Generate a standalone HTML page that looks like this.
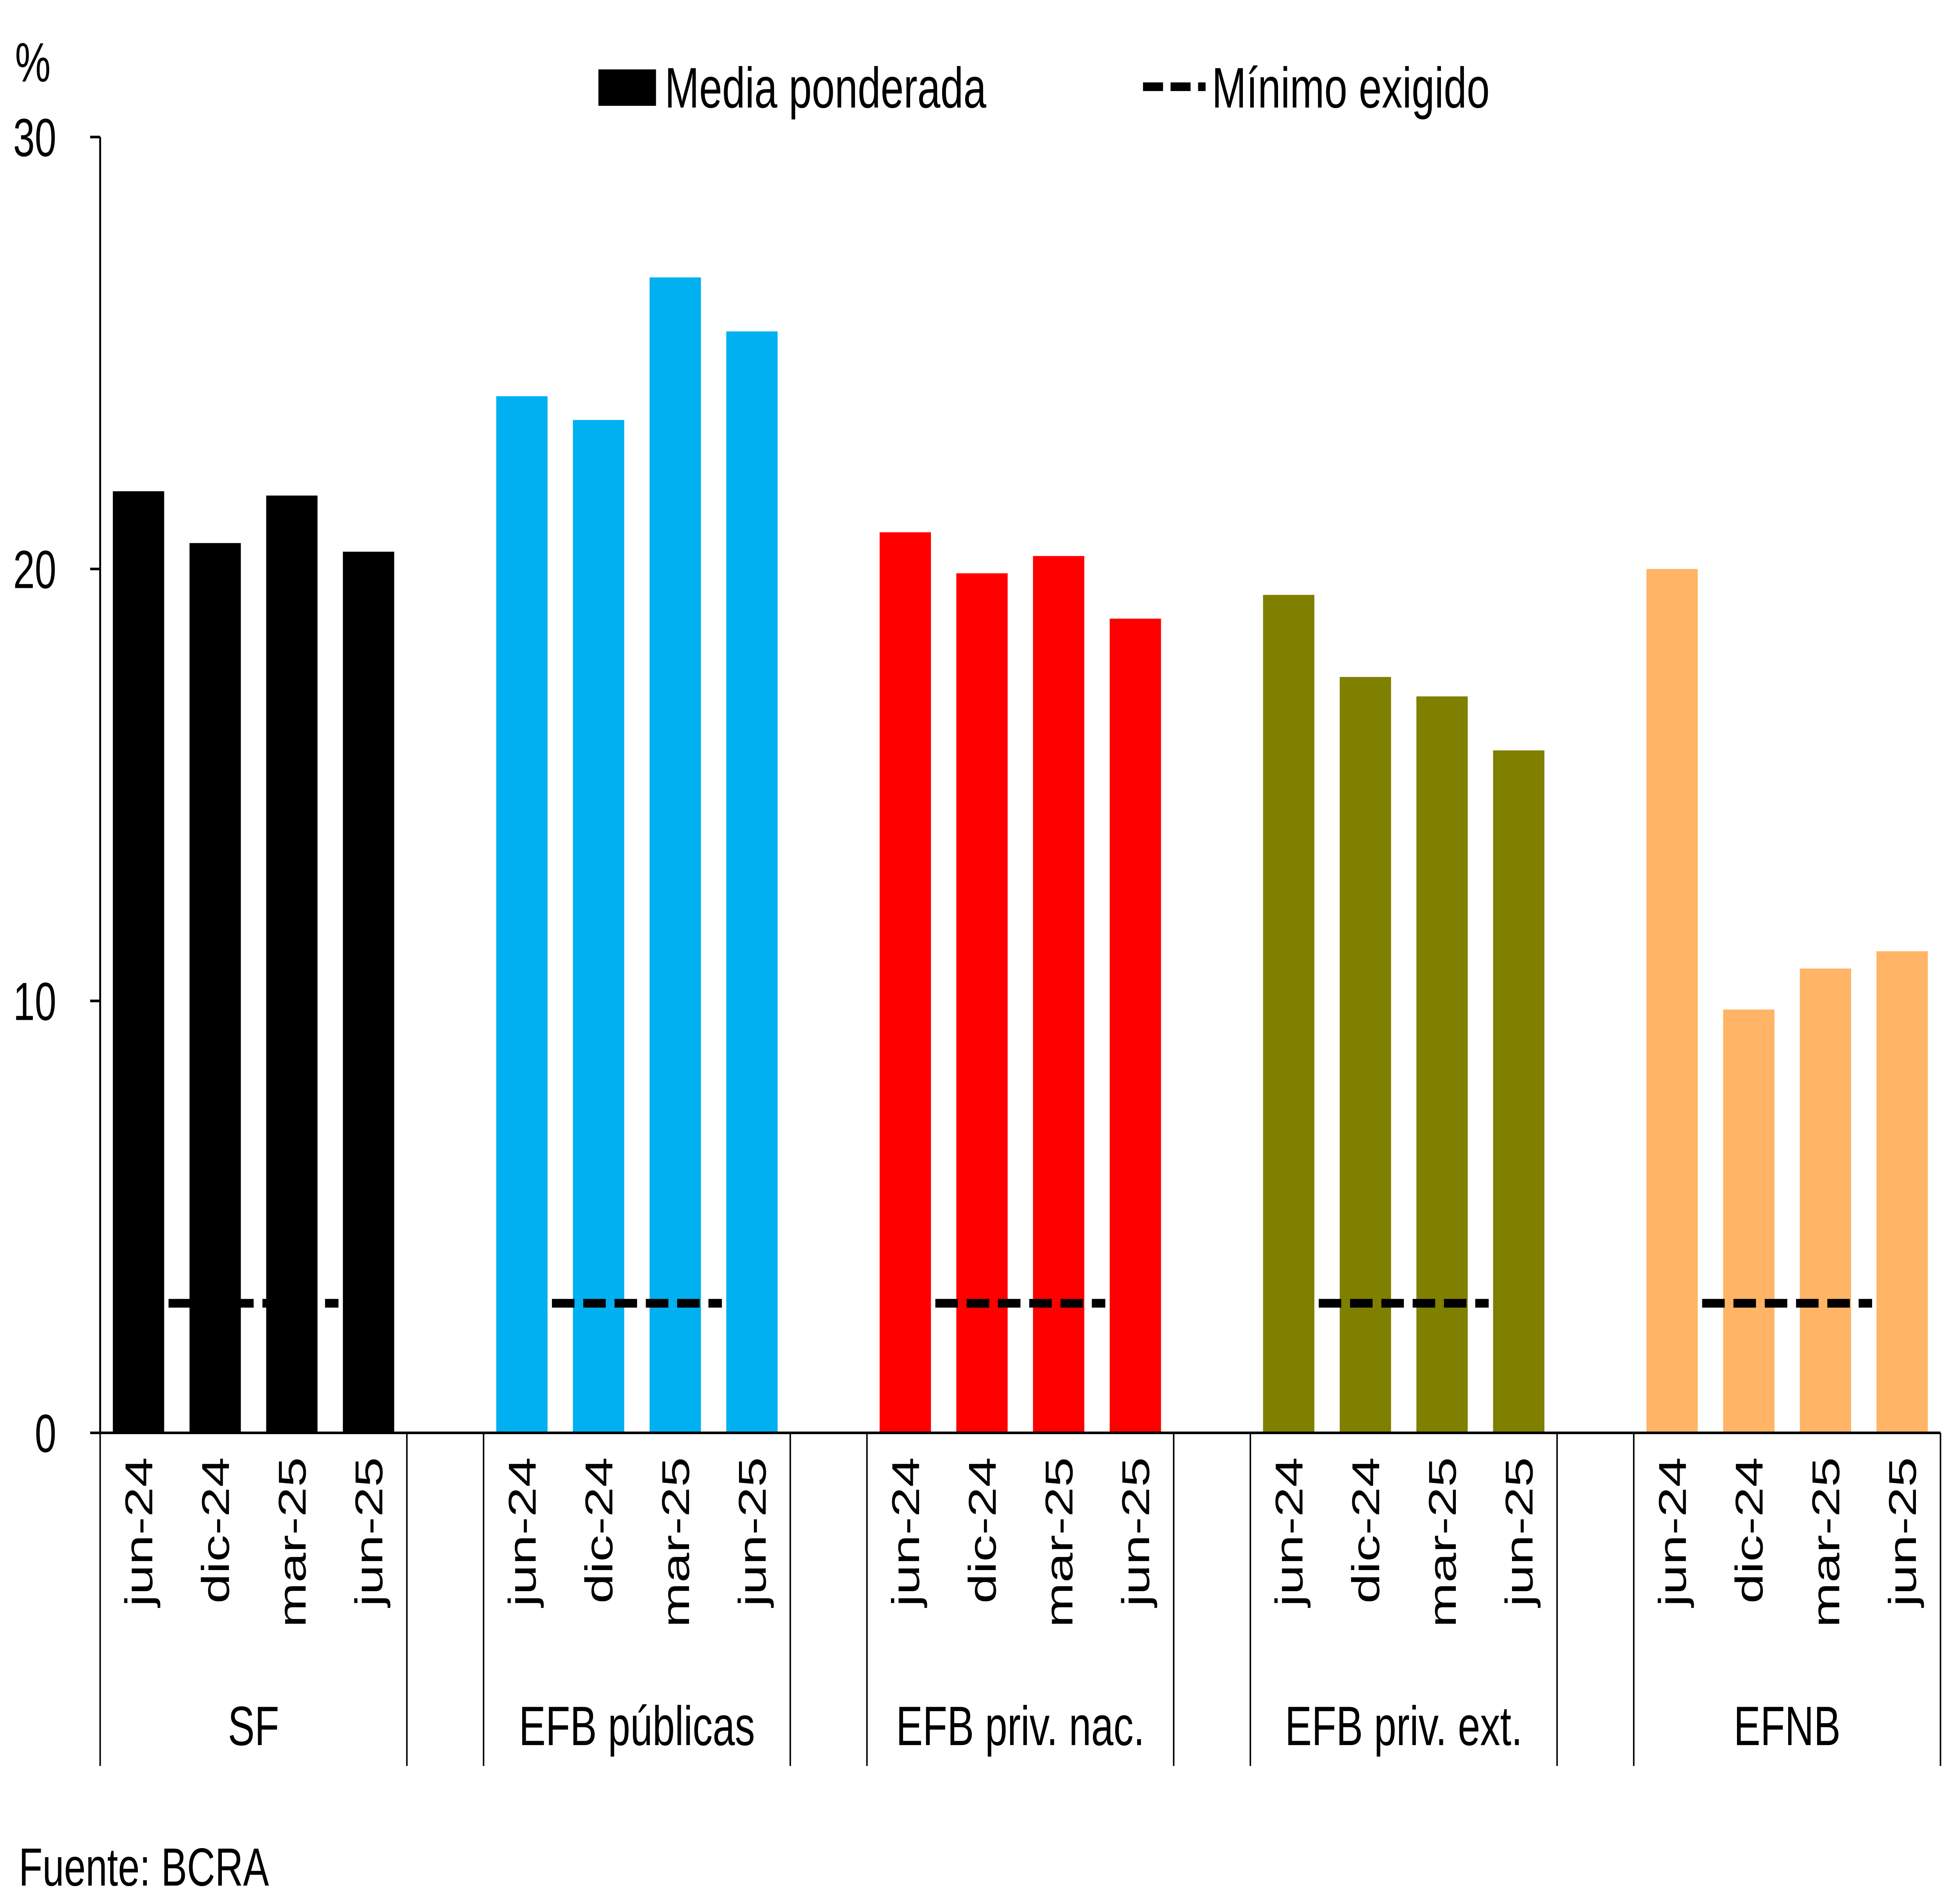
<!DOCTYPE html>
<html><head><meta charset="utf-8"><style>
html,body{margin:0;padding:0;background:#fff;width:100%;height:100%;overflow:hidden;}
svg{display:block;width:100vw;height:100vh;font-family:"Liberation Sans",Arial,sans-serif;}
</style></head><body>
<svg id="chart" viewBox="0 0 1560 1097.6" preserveAspectRatio="none" xmlns="http://www.w3.org/2000/svg">
<rect width="1560" height="1097.6" fill="#fff"/>
<text x="12" y="47" font-size="32">%</text>
<g>
<rect x="478" y="40" width="46" height="21" fill="#000"/>
<text x="531" y="62" font-size="33">Media ponderada</text>
<line x1="913" y1="50" x2="963" y2="50" stroke="#000" stroke-width="5" stroke-dasharray="16,6"/>
<text x="968" y="62" font-size="33">Mínimo exigido</text>
</g>
<g id="plot"></g>
<text x="15" y="1087" font-size="31">Fuente: BCRA</text>
</svg>
<script>
const groups = ["SF","EFB públicas","EFB priv. nac.","EFB priv. ext.","EFNB"];
const periods = ["jun-24","dic-24","mar-25","jun-25"];
const colors = ["#000000","#00b0f0","#ff0000","#7f7f00","#ffb466"];
const mediaSF = [21.8,20.6,21.7,20.4];
const mediaPub = [24.0,23.45,26.75,25.5];
const mediaNac = [20.85,19.9,20.3,18.85];
const mediaExt = [19.4,17.5,17.05,15.8];
const mediaEFNB = [20.0,9.8,10.75,11.15];
const minimo = [3,3,3,3,3];
const yTicks = [0,10,20,30];
const series = [mediaSF,mediaPub,mediaNac,mediaExt,mediaEFNB];

const NS="http://www.w3.org/2000/svg";
const g=document.getElementById('plot');
const x0=80,x1=1550,yB=826,yT=79,slot=(x1-x0)/24,bw=41;
const y=v=>yB-(v/30)*(yB-yT);
const cx=(gi,pi)=>x0+(gi*5+pi+0.5)*slot;
function mk(t,a){const e=document.createElementNS(NS,t);for(const k in a)e.setAttribute(k,a[k]);g.appendChild(e);return e;}

yTicks.forEach(t=>{
  const l=mk('line',{x1:x0-8,x2:x0,y1:y(t),y2:y(t),stroke:'#000','stroke-width':1.5});
  
  
  const tx=mk('text',{x:45,y:y(t)+11,'font-size':31,'text-anchor':'end'});
  tx.textContent=t;
  
  
});

series.forEach((vals,gi)=>{
  vals.forEach((v,pi)=>{
    const r=mk('rect',{x:cx(gi,pi)-bw/2,y:y(v),width:bw,height:yB-y(v),fill:colors[gi]});
    
    
    const t=mk('text',{'font-size':31,'text-anchor':'end',transform:`translate(${cx(gi,pi)+11},840) rotate(-90)`});
    t.textContent=periods[pi];
    
    
  });
  const m=mk('line',{x1:cx(gi,0)+24,x2:cx(gi,3)-24,y1:y(minimo[gi]),y2:y(minimo[gi]),stroke:'#000','stroke-width':5,'stroke-dasharray':'18,7'});
  
  
  const gl=mk('text',{x:(cx(gi,0)+cx(gi,3))/2,y:1006,'font-size':32,'text-anchor':'middle'});
  gl.textContent=groups[gi];
  
  
  [x0+gi*5*slot, x0+(gi*5+4)*slot].forEach(xx=>{
    const s=mk('line',{x1:xx,x2:xx,y1:yB,y2:1018,stroke:'#000','stroke-width':1.2});
    
    
  });
});
const ax=mk('line',{x1:x0,x2:x0,y1:yT,y2:yB,stroke:'#000','stroke-width':1.5});


const bx=mk('line',{x1:x0,x2:x1,y1:yB,y2:yB,stroke:'#000','stroke-width':1.5});


</script>
</body></html>
